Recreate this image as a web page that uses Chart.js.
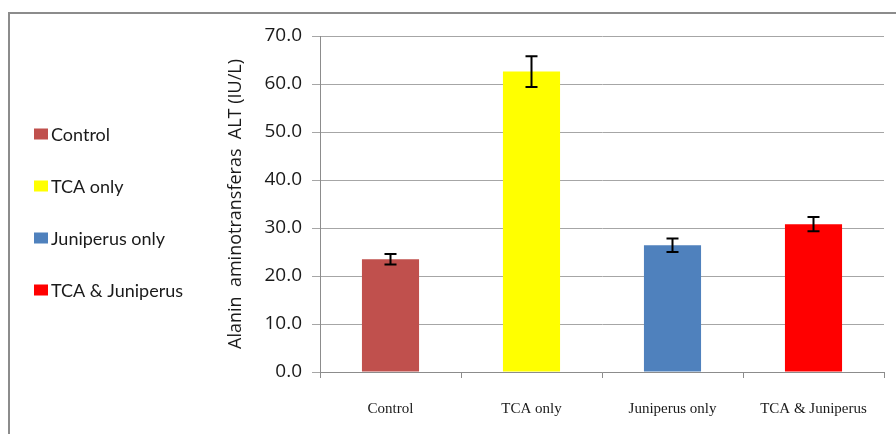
<!DOCTYPE html>
<html>
<head>
<meta charset="utf-8">
<script src="https://cdn.jsdelivr.net/npm/chart.js@4/dist/chart.umd.min.js"></script>
<style>
  html, body { margin: 0; padding: 0; background: #fff; }
  #wrap { position: relative; width: 896px; height: 434px; overflow: hidden; }
  #frame { position: absolute; left: 8px; top: 12px; width: 1000px; height: 1000px;
           border-left: 2px solid #8c8c8c; border-top: 2px solid #8c8c8c; box-sizing: border-box; }
  canvas { position: absolute; left: 0; top: 0; }
</style>
</head>
<body>
<div id="wrap">
  <div id="frame"></div>
  <canvas id="c" width="896" height="434"></canvas>
</div>
<script>
// ALT levels per group (IU/L) with standard error
const groups = ['Control', 'TCA only', 'Juniperus only', 'TCA & Juniperus'];
const altMeans = [23.5, 62.6, 26.4, 30.8];
const altErrors = [1.1, 3.2, 1.4, 1.5];
const barColors = ['#C0504D', '#FFFF00', '#4F81BD', '#FF0000'];
const yTicks = [0, 10, 20, 30, 40, 50, 60, 70];

// Error bars drawn with the chart's own scales
const errorBars = {
  id: 'errorBars',
  afterDatasetsDraw(chart) {
    const { ctx, scales: { x, y } } = chart;
    ctx.save();
    ctx.strokeStyle = '#000';
    ctx.lineWidth = 2;
    altMeans.forEach((v, i) => {
      const cx = x.getPixelForValue(i);
      const top = y.getPixelForValue(v + altErrors[i]);
      const bot = y.getPixelForValue(v - altErrors[i]);
      ctx.beginPath();
      ctx.moveTo(cx, top); ctx.lineTo(cx, bot);
      ctx.moveTo(cx - 6, top); ctx.lineTo(cx + 6, top);
      ctx.moveTo(cx - 6, bot); ctx.lineTo(cx + 6, bot);
      ctx.stroke();
    });
    ctx.restore();
  }
};

// Category legend at the left side
const sideLegend = {
  id: 'sideLegend',
  afterDraw(chart) {
    const ctx = chart.ctx;
    ctx.save();
    ctx.font = '18px Lato';
    ctx.textBaseline = 'middle';
    ctx.textAlign = 'left';
    groups.forEach((g, i) => {
      const cy = 134 + i * 52;
      ctx.fillStyle = barColors[i];
      ctx.fillRect(34, cy - 5.5, 14, 11);
      ctx.fillStyle = '#1a1a1a';
      ctx.fillText(g, 51, cy + 1);
    });
    ctx.restore();
  }
};

new Chart(document.getElementById('c'), {
  type: 'bar',
  data: {
    labels: groups,
    datasets: [{
      data: altMeans,
      backgroundColor: barColors,
      borderWidth: 0,
      categoryPercentage: 1,
      barPercentage: 0.405
    }]
  },
  options: {
    responsive: false,
    animation: false,
    layout: { padding: { left: 225, right: 12, top: 36, bottom: 0 } },
    plugins: { legend: { display: false }, tooltip: { enabled: false } },
    scales: {
      x: {
        grid: { offset: true, drawOnChartArea: false, tickLength: 6, color: '#8c8c8c' },
        border: { color: '#8c8c8c', width: 1 },
        ticks: { padding: 22, color: '#1a1a1a', font: { family: 'Liberation Serif', size: 15 } },
        afterFit(s) { s.height = 62; }
      },
      y: {
        min: 0, max: 70,
        afterBuildTicks(s) { s.ticks = yTicks.map(v => ({ value: v })); },
        grid: { color: '#a6a6a6', tickLength: 8 },
        border: { color: '#8c8c8c', width: 1 },
        ticks: {
          padding: 10, color: '#1a1a1a',
          font: { family: 'Open Sans', size: 19 },
          callback: v => Number(v).toFixed(1)
        },
        title: {
          display: true,
          text: 'Alanin  aminotransferas  ALT (IU/L)',
          color: '#1a1a1a',
          padding: 0,
          font: { family: 'Open Sans', size: 18 }
        },
        afterFit(s) { s.width = 95; }
      }
    }
  },
  plugins: [errorBars, sideLegend]
});
</script>
</body>
</html>
